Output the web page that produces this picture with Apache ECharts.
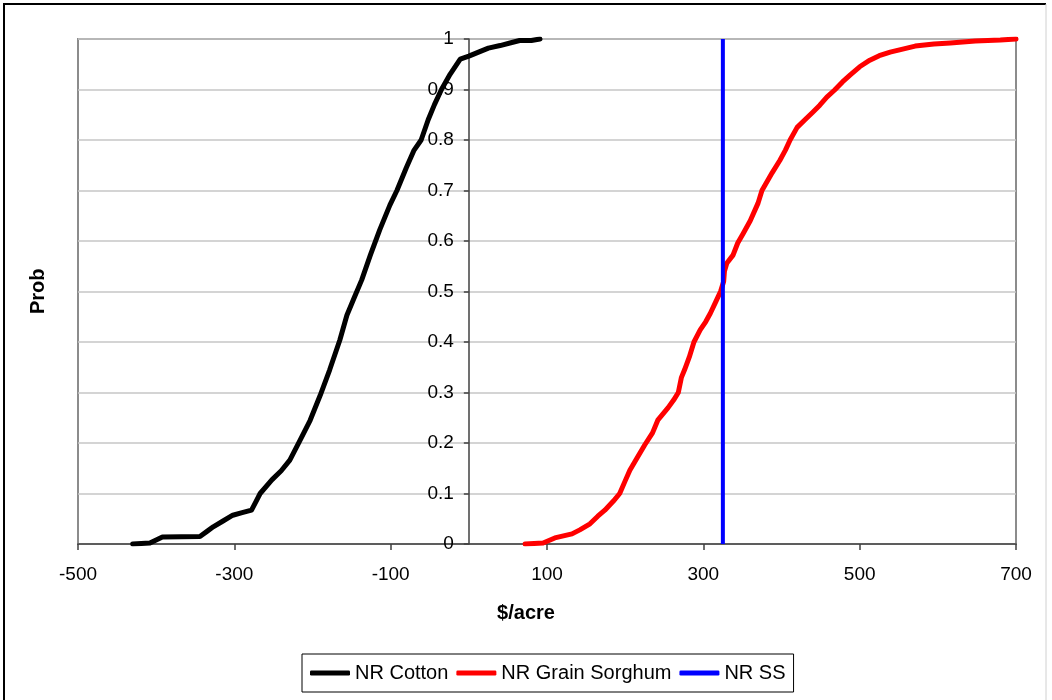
<!DOCTYPE html>
<html>
<head>
<meta charset="utf-8">
<script src="https://cdn.jsdelivr.net/npm/echarts@6/dist/echarts.min.js"></script>
<style>html,body{margin:0;padding:0;background:#fff}#c{width:1052px;height:700px}</style>
</head>
<body>
<div id="c"></div>
<script>
// NR Cotton cumulative distribution ($/acre, probability)
const cottonX = [-430,-408,-400,-392,-344,-335,-327,-315,-302,-290,-278,-272,-267,-252,-240,-229,-216,-203,-190,-178,-165,-156,-146,-137,-126,-114,-101,-92,-80,-70,-61,-52,-44,-35,-24,-11,0,14,25,40,55,65,80,91];
const cottonP = [0,0.002,0.008,0.014,0.015,0.025,0.034,0.045,0.057,0.062,0.067,0.085,0.10,0.127,0.145,0.166,0.205,0.245,0.295,0.345,0.404,0.453,0.49,0.523,0.572,0.622,0.671,0.70,0.745,0.78,0.80,0.84,0.87,0.90,0.93,0.96,0.966,0.975,0.982,0.987,0.993,0.997,0.997,1];
// NR Grain Sorghum cumulative distribution
const sorghumX = [72,95,110,132,142,155,165,174,185,193,200,206,215,225,235,242,255,262,268,272,276,282,288,296,303,309,316,322,326,327,330,338,344,351,360,370,375,388,398,405,411,420,430,440,449,458,468,478,488,500,513,525,539,555,571,595,616,648,680,700];
const sorghumP = [0,0.002,0.012,0.02,0.028,0.04,0.055,0.067,0.085,0.10,0.125,0.146,0.17,0.196,0.22,0.246,0.27,0.285,0.30,0.33,0.345,0.37,0.40,0.424,0.44,0.457,0.48,0.50,0.52,0.54,0.556,0.572,0.596,0.615,0.64,0.675,0.70,0.735,0.76,0.78,0.80,0.825,0.84,0.855,0.869,0.885,0.899,0.915,0.929,0.945,0.958,0.967,0.974,0.98,0.986,0.99,0.992,0.996,0.998,1];
// NR SS vertical reference line
const ssX = [325,325];
const ssP = [0,1];
// axis ticks
const xTicks = [-500,-300,-100,100,300,500,700];

const zip = (a,b) => a.map((v,i)=>[v,b[i]]);
const FONT = '"Liberation Sans", Arial, sans-serif';

const GL = 78, GR = 36, W = 1052;
const xMin = -500, xMax = 700;
// y axis crosses at x = 0
const yAxisOffset = -((0 - xMin) / (xMax - xMin)) * (W - GL - GR);

const chart = echarts.init(document.getElementById('c'), null, {renderer:'canvas'});
chart.setOption({
  animation:false,
  backgroundColor:'#fff',
  textStyle:{fontFamily:FONT},
  grid:{left:GL,right:GR,top:39,bottom:156,show:true,borderColor:'#8c8c8c',borderWidth:2,backgroundColor:'transparent'},
  xAxis:{
    type:'value',min:xMin,max:xMax,
    axisLine:{onZero:false,lineStyle:{color:'#404040',width:1.5}},
    axisTick:{customValues:xTicks,length:6,lineStyle:{color:'#404040',width:1.5}},
    axisLabel:{customValues:xTicks,margin:21,fontSize:19,color:'#000',fontFamily:FONT},
    splitLine:{show:false}
  },
  yAxis:{
    type:'value',min:0,max:1,interval:0.1,
    offset:yAxisOffset,
    axisLine:{show:true,onZero:false,lineStyle:{color:'#404040',width:1.5}},
    axisTick:{show:true,length:5,lineStyle:{color:'#404040',width:1.5}},
    axisLabel:{margin:15,fontSize:19,color:'#000',fontFamily:FONT,formatter:v=>String(Math.round(v*10)/10)},
    splitLine:{show:true,lineStyle:{color:'#c6c6c6',width:1.5}}
  },
  legend:{
    left:302,top:654,
    orient:'horizontal',
    borderColor:'#000',borderWidth:1,
    padding:[9,8,9,8],
    itemGap:8,itemWidth:40,itemHeight:5,
    icon:'roundRect',
    textStyle:{fontSize:20,color:'#000',fontFamily:FONT},
    data:['NR Cotton','NR Grain Sorghum','NR SS']
  },
  graphic:[
    {type:'line',shape:{x1:3,y1:4,x2:1046,y2:4},style:{stroke:'#000',lineWidth:2},silent:true},
    {type:'line',shape:{x1:4,y1:3,x2:4,y2:700},style:{stroke:'#000',lineWidth:2},silent:true},
    {type:'line',shape:{x1:1046,y1:4,x2:1046,y2:700},style:{stroke:'#d0d0d0',lineWidth:1},silent:true},
    {type:'text',left:'center',top:603,style:{text:'$/acre',font:'bold 20px '+FONT,fill:'#000'},z:10},
    {type:'text',x:28,y:314,rotation:Math.PI/2,style:{text:'Prob',font:'bold 20px '+FONT,fill:'#000'},z:10}
  ],
  series:[
    {name:'NR Cotton',type:'line',data:zip(cottonX,cottonP),symbol:'none',lineStyle:{color:'#000',width:5,cap:'round',join:'round'},itemStyle:{color:'#000'}},
    {name:'NR Grain Sorghum',type:'line',data:zip(sorghumX,sorghumP),symbol:'none',lineStyle:{color:'#ff0000',width:5,cap:'round',join:'round'},itemStyle:{color:'#ff0000'}},
    {name:'NR SS',type:'line',data:zip(ssX,ssP),symbol:'none',lineStyle:{color:'#0000ff',width:4},itemStyle:{color:'#0000ff'}}
  ]
});
</script>
</body>
</html>
